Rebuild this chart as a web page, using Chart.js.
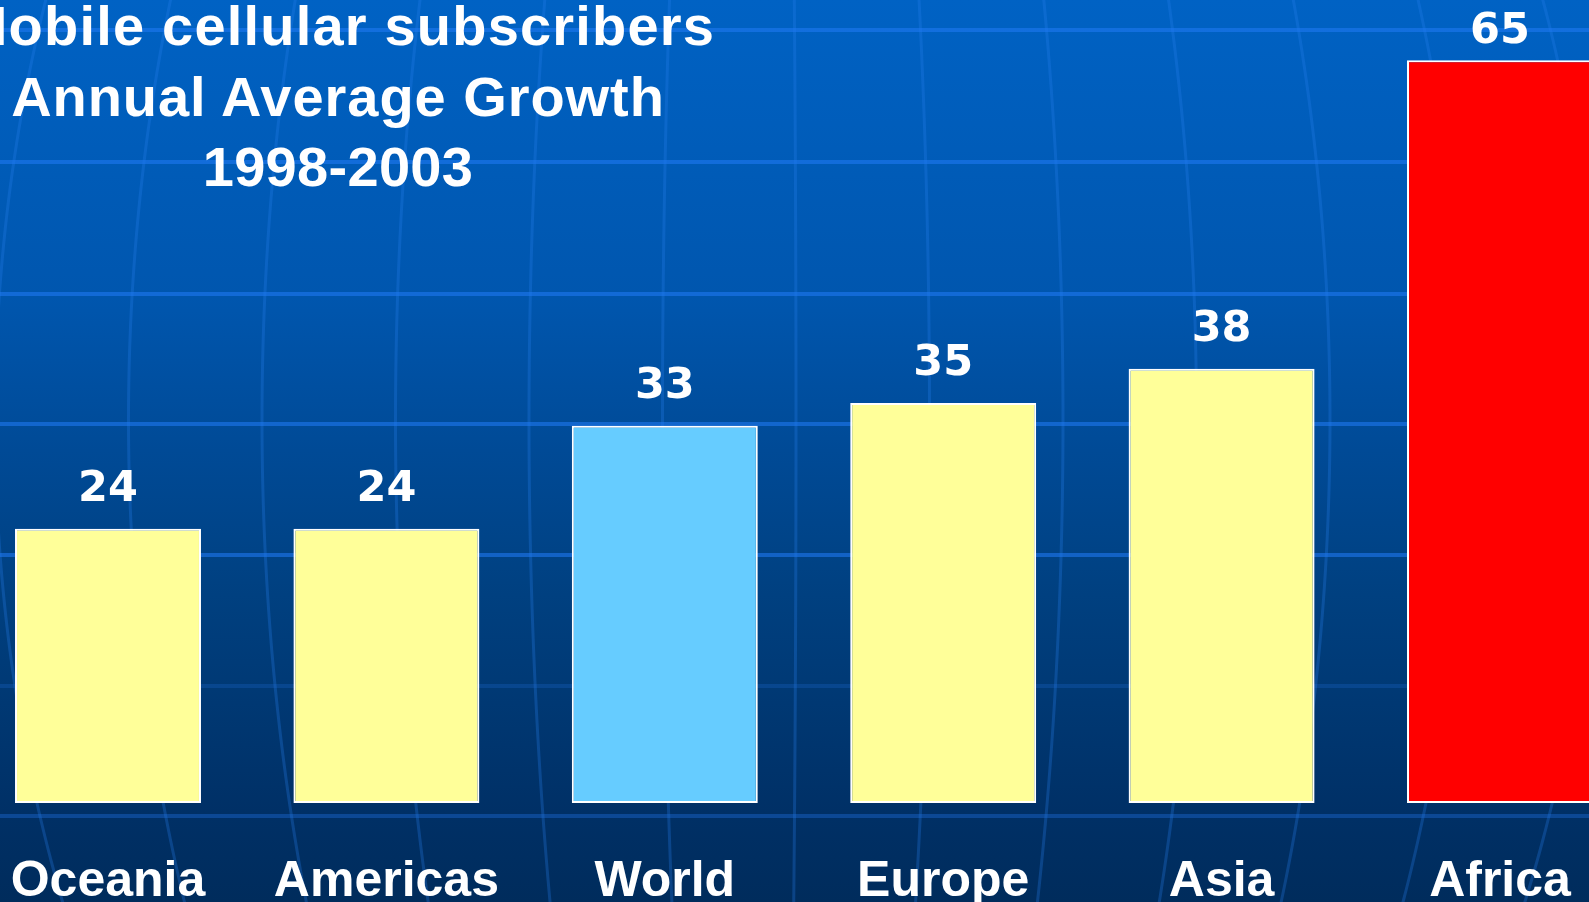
<!DOCTYPE html>
<html>
<head>
<meta charset="utf-8">
<script src="https://cdn.jsdelivr.net/npm/chart.js@4.4.1/dist/chart.umd.min.js"></script>
<style>
html, body { margin: 0; padding: 0; width: 1589px; height: 902px; overflow: hidden; background: #003f80; }
#marco { position: relative; width: 1589px; height: 902px; }
#titulo {
    position: absolute; left: -162px; top: -9px; width: 1000px;
    text-align: center; color: #fff; white-space: nowrap;
    font: bold 56px "Liberation Sans", Arial, sans-serif;
    line-height: 70.5px;
}
#titulo span { display: block; }
</style>
</head>
<body>
<div id="marco">
    <canvas id="grafico"></canvas>
    <div id="titulo"></div>
</div>
<script>
// Datos del gráfico
const regiones = ['Oceania', 'Americas', 'World', 'Europe', 'Asia', 'Africa'];
const crecimiento = [24, 24, 33, 35, 38, 65];
const coloresBarras = ['#FFFF99', '#FFFF99', '#66CCFF', '#FFFF99', '#FFFF99', '#FF0000'];
const tituloLineas = ['Mobile cellular subscribers', 'Annual Average Growth', '1998-2003'];
const espaciadoTitulo = [1.2, 0.95, 0.3];

// Decoración del fondo (líneas de la plantilla)
const lineasY = [30, 162, 294, 424, 555, 686, 816];

document.getElementById('titulo').innerHTML = tituloLineas
    .map((t, i) => `<span style="letter-spacing:${espaciadoTitulo[i]}px">${t}</span>`).join('');

// Fondo degradado con la rejilla del globo
const fondo = {
    id: 'fondo',
    beforeDraw(chart) {
        const { ctx, width, height } = chart;
        ctx.save();
        const g = ctx.createLinearGradient(0, 0, 0, height);
        g.addColorStop(0, '#0062c4');
        g.addColorStop(0.33, '#0056ae');
        g.addColorStop(0.5, '#004a96');
        g.addColorStop(0.66, '#004080');
        g.addColorStop(0.9, '#003066');
        g.addColorStop(1, '#002c5c');
        ctx.fillStyle = g;
        ctx.fillRect(0, 0, width, height);

        // meridianos
        ctx.lineWidth = 3;
        ctx.strokeStyle = 'rgba(40,130,240,0.28)';
        for (let xm = -5; xm < width + 140; xm += 133.5) {
            ctx.beginPath();
            for (let y = -10; y <= height + 10; y += 10) {
                const f = Math.sqrt(1 - Math.pow((y - 420) / 1180, 2));
                const x = 770 + (xm - 770) * f;
                if (y === -10) ctx.moveTo(x, y); else ctx.lineTo(x, y);
            }
            ctx.stroke();
        }

        // paralelos
        lineasY.forEach((y, i) => {
            ctx.strokeStyle = i === 5 ? 'rgba(30,110,220,0.25)' : (i === 6 ? 'rgba(30,110,220,0.4)' : 'rgba(30,120,240,0.6)');
            ctx.lineWidth = 4;
            ctx.beginPath();
            ctx.moveTo(0, y);
            ctx.lineTo(width, y);
            ctx.stroke();
        });
        ctx.restore();
    }
};

// Valores encima de cada barra
const etiquetas = {
    id: 'etiquetas',
    afterDatasetsDraw(chart) {
        const { ctx, chartArea } = chart;
        const meta = chart.getDatasetMeta(0);
        ctx.save();
        ctx.font = 'bold 43px "DejaVu Sans", Verdana, sans-serif';
        ctx.fillStyle = '#ffffff';
        ctx.textAlign = 'center';
        ctx.textBaseline = 'alphabetic';
        meta.data.forEach((bar, i) => {
            const y = Math.max(bar.y - 28, chartArea.top + 40);
            ctx.fillText(String(crecimiento[i]), bar.x, y);
        });
        ctx.restore();
    }
};

new Chart(document.getElementById('grafico'), {
    type: 'bar',
    data: {
        labels: regiones,
        datasets: [{
            data: crecimiento,
            backgroundColor: coloresBarras,
            borderColor: '#ffffff',
            borderWidth: 2,
            borderSkipped: false,
            barPercentage: 0.668,
            categoryPercentage: 1,
            clip: false
        }]
    },
    options: {
        responsive: true,
        maintainAspectRatio: false,
        animation: false,
        layout: { padding: { top: 3, left: 108, right: 89, bottom: 0 } },
        plugins: { legend: { display: false }, tooltip: { enabled: false }, title: { display: false } },
        scales: {
            x: {
                offset: false,
                grid: { display: false, drawTicks: false },
                border: { display: false },
                ticks: {
                    color: '#ffffff', padding: 0, maxRotation: 0, autoSkip: false,
                    font: { family: '"Liberation Sans", Arial, sans-serif', size: 50, weight: 'bold', lineHeight: 3.16 }
                },
                afterFit: s => { s.height = 99; }
            },
            y: { display: false, min: 0, max: 70 }
        }
    },
    plugins: [fondo, etiquetas]
});
</script>
</body>
</html>
